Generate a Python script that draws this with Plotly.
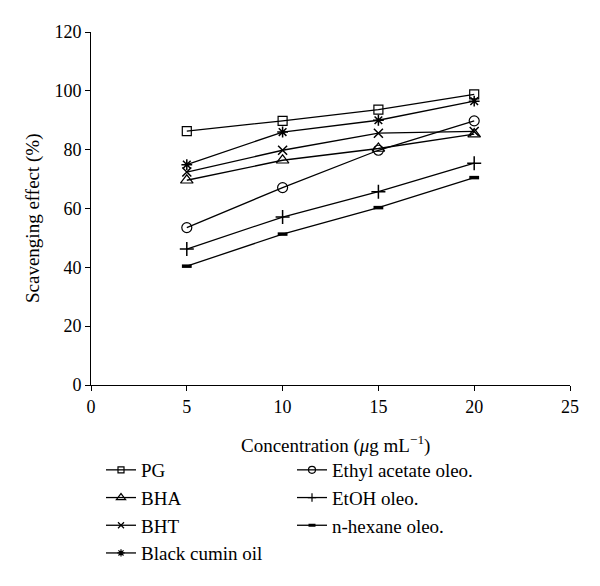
import plotly.graph_objects as go

concentration = [5, 10, 15, 20]
pg = [86.3, 89.8, 93.6, 98.8]
bha = [69.6, 76.4, 80.4, 85.3]
bht = [72.4, 79.8, 85.6, 86.2]
black_cumin = [74.9, 86.0, 90.0, 96.5]
ethyl_acetate = [53.5, 67.1, 79.8, 89.8]
etoh = [46.2, 57.1, 65.7, 75.4]
n_hexane = [40.4, 51.3, 60.3, 70.5]

x_ticks = [0, 5, 10, 15, 20, 25]
y_ticks = [0, 20, 40, 60, 80, 100, 120]

FONT = "Liberation Serif"

series = [
    ("PG", pg, "square-open", 9, 1.2, 6, "legend"),
    ("BHA", bha, "triangle-up-open", 11, 1.2, 8, "legend"),
    ("BHT", bht, "x-thin-open", 9, 1.5, 6, "legend"),
    ("Black cumin oil", black_cumin, "asterisk-open", 9, 1.5, 6, "legend"),
    ("Ethyl acetate oleo.", ethyl_acetate, "circle-open", 10, 1.2, 7, "legend2"),
    ("EtOH oleo.", etoh, "cross-thin-open", 10, 1.5, 6, "legend2"),
    ("n-hexane oleo.", n_hexane, "line-ew-open", 7, 3.5, 5, "legend2"),
]

fig = go.Figure()
for name, vals, sym, size, lw, lsize, leg in series:
    fig.add_trace(go.Scatter(
        x=concentration, y=vals, name=name, mode="lines+markers",
        line=dict(color="black", width=1.3),
        marker=dict(symbol=sym, size=size, color="black",
                    line=dict(color="black", width=lw)),
        showlegend=False, legendgroup=name,
    ))
    # legend-only entry with the smaller symbol used in the reference key
    fig.add_trace(go.Scatter(
        x=[None], y=[None], name=name, mode="lines+markers",
        line=dict(color="black", width=1.3),
        marker=dict(symbol=sym, size=lsize, color="black",
                    line=dict(color="black", width=min(lw, 1.2) if lw < 3 else 3)),
        legend=leg, legendgroup=name, hoverinfo="skip",
    ))

legend_common = dict(
    xref="container", yref="container", yanchor="top", xanchor="left",
    font=dict(family=FONT, size=19, color="black"),
    bgcolor="rgba(0,0,0,0)", tracegroupgap=0, itemwidth=30,
)

L, R, T, B = 83, 38, 24, 209
PW, PH = 600 - L - R, 586 - T - B

fig.update_layout(
    width=600, height=586,
    margin=dict(l=L, r=R, t=T, b=B, autoexpand=False),
    plot_bgcolor="white", paper_bgcolor="white",
    font=dict(family=FONT, size=18, color="black"),
    xaxis=dict(
        range=[0, 25], tickvals=x_ticks, ticktext=[str(v) for v in x_ticks],
        showgrid=False, zeroline=False, showline=True, linecolor="black",
        linewidth=1, ticks="outside", ticklen=5, tickcolor="black",
        tickangle=0, tickfont=dict(family=FONT, size=18),
    ),
    yaxis=dict(
        range=[0, 120], tickvals=y_ticks, ticktext=[str(v) for v in y_ticks],
        showgrid=False, zeroline=False, showline=True, linecolor="black",
        linewidth=1, ticks="outside", ticklen=5, tickcolor="black",
        tickfont=dict(family=FONT, size=18),
    ),
    annotations=[
        dict(text="Concentration (<i>μ</i>g mL<sup>−1</sup>)",
             xref="paper", yref="paper", x=(327 - L) / PW, y=-(436 - (586 - B)) / PH,
             xanchor="center", yanchor="middle", showarrow=False,
             font=dict(family=FONT, size=19, color="black")),
        dict(text="Scavenging effect (%)",
             xref="paper", yref="paper", x=(25 - L) / PW, y=(PH - (210 - T)) / PH,
             xanchor="center", yanchor="middle", textangle=-90, showarrow=False,
             font=dict(family=FONT, size=19, color="black")),
    ],
    legend=dict(x=93/600, y=1 - 443/586, **legend_common),
    legend2=dict(x=284/600, y=1 - 443/586, **legend_common),
)

fig.write_html("out.html")
